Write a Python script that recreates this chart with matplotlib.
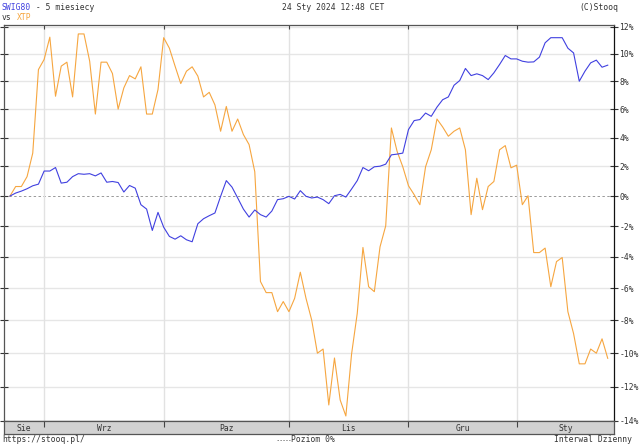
import numpy as np
import pandas as pd
import matplotlib
matplotlib.use("Agg")
import matplotlib.pyplot as plt

# % change since 2023-08-24, one value per trading day
swig80 = [0, 0.20, 0.33, 0.49, 0.69, 0.80, 1.69, 1.69, 1.93, 0.87,
          0.93, 1.31, 1.51, 1.47, 1.51, 1.36, 1.56, 0.93, 0.98, 0.91,
          0.27, 0.71, 0.53, -0.58, -0.87, -2.28, -1.09, -2.07, -2.67, -2.85,
          -2.63, -2.89, -3.02, -1.84, -1.51, -1.31, -1.13, -0.02, 1.04, 0.60,
          -0.13, -0.87, -1.40, -0.93, -1.24, -1.40, -1.00, -0.24, -0.18, -0.02,
          -0.20, 0.36, -0.02, -0.13, -0.07, -0.24, -0.51, 0.02, 0.11, -0.07,
          0.47, 1.04, 1.93, 1.71, 1.98, 2.02, 2.16, 2.80, 2.85, 2.92,
          4.56, 5.19, 5.26, 5.72, 5.49, 6.14, 6.67, 6.87, 7.71, 8.05,
          8.93, 8.41, 8.54, 8.41, 8.12, 8.61, 9.22, 9.88, 9.63, 9.63,
          9.46, 9.39, 9.41, 9.76, 10.82, 11.20, 11.20, 11.20, 10.42, 10.07,
          8.00, 8.73, 9.34, 9.54, 9.02, 9.17]
xtp = [0, 0.64, 0.64, 1.31, 2.92, 8.85, 9.59, 11.24, 6.92, 9.10,
       9.39, 6.87, 11.48, 11.48, 9.46, 5.65, 9.39, 9.39, 8.56, 6.00,
       7.52, 8.41, 8.17, 9.05, 5.65, 5.65, 7.40, 11.20, 10.42, 9.10,
       7.83, 8.73, 9.05, 8.37, 6.87, 7.20, 6.30, 4.44, 6.19, 4.44,
       5.30, 4.21, 3.51, 1.64, -5.57, -6.27, -6.27, -7.46, -6.83, -7.46,
       -6.63, -4.98, -6.63, -7.98, -10.00, -9.75, -13.07, -10.29, -12.78, -13.71,
       -10.06, -7.56, -3.39, -5.90, -6.21, -3.35, -1.98, 4.67, 3.04, 1.98,
       0.69, 0.09, -0.58, 1.98, 3.15, 5.30, 4.74, 4.09, 4.44, 4.67,
       3.15, -1.24, 1.20, -0.91, 0.64, 0.98, 3.15, 3.44, 1.91, 2.09,
       -0.58, 0.02, -3.72, -3.72, -3.43, -5.90, -4.30, -4.04, -7.46, -8.81,
       -10.64, -10.64, -9.75, -10.00, -9.13, -10.31]

holidays = ["2023-11-01", "2023-12-25", "2023-12-26", "2024-01-01"]
dates = pd.bdate_range("2023-08-24", "2024-01-24", freq="C", holidays=holidays)
month_names = {8: "Sie", 9: "Wrz", 10: "Paz", 11: "Lis", 12: "Gru", 1: "Sty"}
y_ticks = list(range(-14, 13, 2))

BLUE = "#4040e0"
ORANGE = "#f6a640"
MONO = "DejaVu Sans Mono"
FS = 5.8
W, H = 640, 446


def fx(px):
    return px / W


def fy(py):
    return 1 - py / H


fig = plt.figure(figsize=(W / 100, H / 100), dpi=100)
ax = fig.add_axes([fx(4), fy(421), fx(614) - fx(4), fy(25) - fy(421)])
# stooq draws percent changes on a log scale
ax.set_yscale("function", functions=(lambda p: np.log1p(np.asarray(p) / 100),
                                      lambda v: np.expm1(v) * 100))

x = np.arange(len(dates))
month_start = [i for i in range(1, len(dates)) if dates[i].month != dates[i - 1].month]

for t in y_ticks:
    if t == 0:
        ax.axhline(0, color="#999999", lw=0.7, dashes=(2.5, 2.5), zorder=1)
    else:
        ax.axhline(t, color="#e6e6e6", lw=1.0, zorder=1)
for m in month_start:
    ax.axvline(m, color="#e2e2e2", lw=1.0, zorder=1)

ax.plot(x, xtp, color=ORANGE, lw=0.8, zorder=3)
ax.plot(x, swig80, color=BLUE, lw=0.8, zorder=4)

ax.set_xlim(-1.05, len(dates) + 0.1)
ax.set_ylim(-14, 12.15)
ax.set_xticks(month_start)
ax.set_xticklabels([])
ax.tick_params(axis="x", which="both", top=True, bottom=False, direction="in",
               length=3, width=0.8, color="#444444")
ax.yaxis.set_minor_locator(matplotlib.ticker.NullLocator())
ax.set_yticks(y_ticks)
ax.set_yticklabels([f"{t}%" for t in y_ticks], fontsize=FS, family=MONO, color="#333333")
ax.tick_params(axis="y", which="both", left=True, right=True, labelleft=False,
               labelright=True, direction="inout", length=6, width=0.8,
               color="#333333", pad=1)
for s in ax.spines.values():
    s.set_color("#555555")
    s.set_linewidth(0.9)
ax.spines["right"].set_color("#111111")

# month band under the chart
band = fig.add_axes([fx(4), fy(434), fx(614) - fx(4), fy(421) - fy(434)])
band.set_facecolor("#d2d2d2")
band.set_xlim(ax.get_xlim())
band.set_ylim(0, 1)
band.set_yticks([])
band.set_xticks(month_start)
band.set_xticklabels([])
band.tick_params(axis="x", top=True, bottom=False, direction="in", length=4,
                 width=0.8, color="#444444")
for s in band.spines.values():
    s.set_color("#555555")
    s.set_linewidth(0.9)
edges = [ax.get_xlim()[0]] + month_start + [ax.get_xlim()[1]]
for a, b in zip(edges[:-1], edges[1:]):
    band.text((a + b) / 2, 0.45, month_names[dates[int(np.ceil(max(a, 0)))].month],
              ha="center", va="center", fontsize=FS, family=MONO, color="#333333")

# header
cw = FS / 72 * 100 * 0.602
fig.text(fx(2), fy(8), "SWIG80", color=BLUE, fontsize=FS, family=MONO, va="center")
fig.text(fx(2 + 6 * cw), fy(8), " - 5 miesiecy", color="#333333", fontsize=FS,
         family=MONO, va="center")
fig.text(fx(2), fy(18), "vs", color="#333333", fontsize=FS, family=MONO, va="center")
fig.text(fx(2 + 3 * cw), fy(18), "XTP", color=ORANGE, fontsize=FS, family=MONO, va="center")
fig.text(fx(333), fy(8), "24 Sty 2024 12:48 CET", color="#333333", fontsize=FS,
         family=MONO, va="center", ha="center")
fig.text(fx(618), fy(8), "(C)Stooq", color="#333333", fontsize=FS, family=MONO,
         va="center", ha="right")

# footer
fig.text(fx(2), fy(440), "https://stooq.pl/", color="#333333", fontsize=FS,
         family=MONO, va="center")
fig.add_artist(plt.Line2D([fx(277), fx(290)], [fy(440), fy(440)], color="#888888",
                          lw=0.7, dashes=(1.5, 1.5)))
fig.text(fx(291), fy(440), "Poziom 0%", color="#333333", fontsize=FS, family=MONO,
         va="center")
fig.text(fx(632), fy(440), "Interwal Dzienny", color="#333333", fontsize=FS,
         family=MONO, va="center", ha="right")

fig.savefig("out.png", dpi=100)
